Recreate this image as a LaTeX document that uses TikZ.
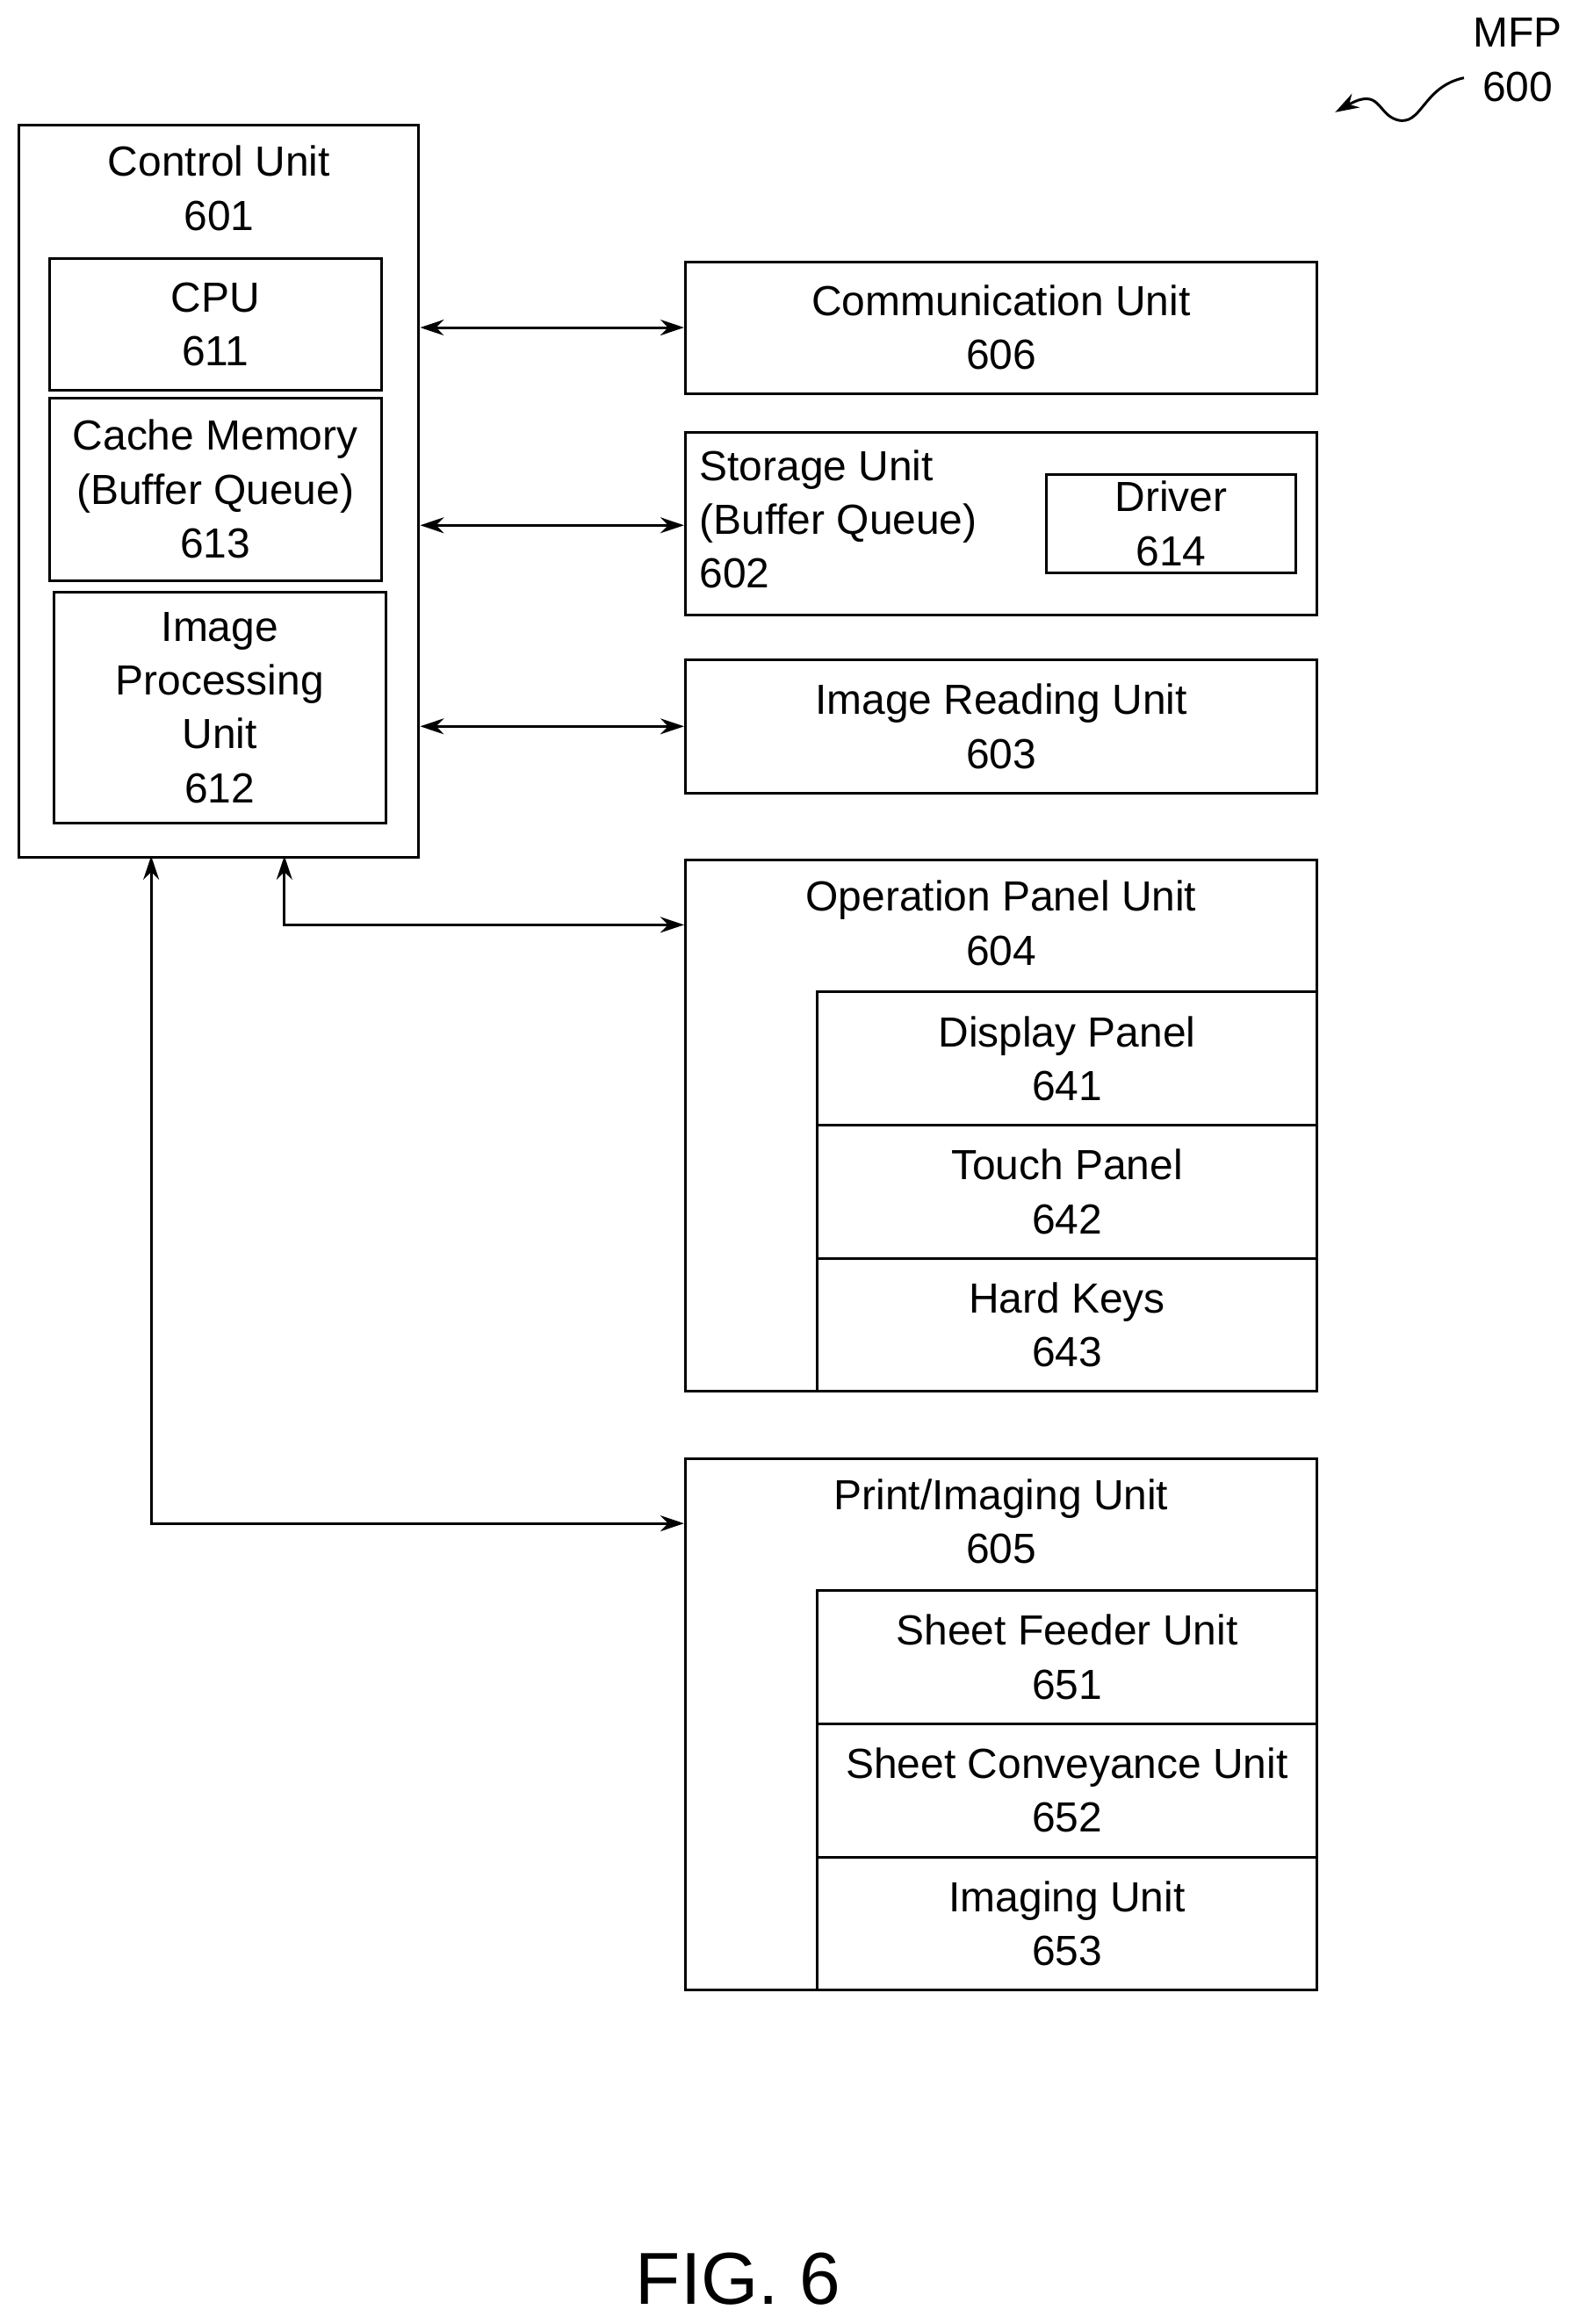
\documentclass[tikz,border=0pt]{standalone}
\usepackage{fontspec}
\setmainfont{Liberation Sans}
\usetikzlibrary{positioning,arrows.meta}

\begin{document}
\begin{tikzpicture}[x=0.02cm,y=-0.02cm,>={Stealth[length=9pt,width=6pt]},
    font=\fontsize{16}{20.5}\selectfont,
    box/.style={rectangle,draw,line width=1pt,anchor=north west,inner sep=0pt},
    title/.style={anchor=north,align=center,inner sep=8pt},
    sub/.style={box,align=center,minimum width=4.44cm} ]
  \useasboundingbox (0,0) rectangle (1050,1553);
% Control unit
  \node [box,minimum width=5.34cm,minimum height=9.78cm] (cu) at (12,83) {};
  \node [title] (cut) at (cu.north) {Control Unit\\601};
  \node [sub,minimum height=1.76cm] (cpu) at (32,172) {CPU\\611};
  \node [sub,minimum height=2.44cm] (cache) at (32,265) {Cache Memory\\(Buffer Queue)\\613};
  \node [sub,minimum height=3.08cm] (ipu) at (35,395) {Image\\Processing\\Unit\\612};
% Right hand units
  \node [box,align=center,minimum width=8.44cm,minimum height=1.76cm] (comm) at (457,174) {Communication Unit\\606};
  \node [box,minimum width=8.44cm,minimum height=2.44cm] (stor) at (457,288) {};
  \node [anchor=west,align=left,inner sep=0pt] (stort) at (467,347) {Storage Unit\\(Buffer Queue)\\602};
  \node [box,align=center,minimum width=3.34cm,minimum height=1.32cm] (drv) at (698,316) {Driver\\614};
  \node [box,align=center,minimum width=8.44cm,minimum height=1.78cm] (iru) at (457,440) {Image Reading Unit\\603};
% Operation panel
  \node [box,minimum width=8.44cm,minimum height=7.10cm] (op) at (457,574) {};
  \node [title] (opt) at (op.north) {Operation Panel Unit\\604};
  \node [box,align=center,minimum width=6.68cm,minimum height=1.78cm] (disp) at (545,662) {Display Panel\\641};
  \node [box,align=center,minimum width=6.68cm,minimum height=1.78cm] (touch) at (545,751) {Touch Panel\\642};
  \node [box,align=center,minimum width=6.68cm,minimum height=1.78cm] (keys) at (545,840) {Hard Keys\\643};
% Print unit
  \node [box,minimum width=8.44cm,minimum height=7.10cm] (pr) at (457,974) {};
  \node [title] (prt) at (pr.north) {Print/Imaging Unit\\605};
  \node [box,align=center,minimum width=6.68cm,minimum height=1.78cm] (feed) at (545,1062) {Sheet Feeder Unit\\651};
  \node [box,align=center,minimum width=6.68cm,minimum height=1.78cm] (conv) at (545,1151) {Sheet Conveyance Unit\\652};
  \node [box,align=center,minimum width=6.68cm,minimum height=1.78cm] (img) at (545,1240) {Imaging Unit\\653};
% Connectors
  \coordinate (cuA) at (190,572);
  \coordinate (cuB) at (101,572);
  \coordinate (opA) at (457,618);
  \coordinate (prA) at (457,1018);
  \coordinate (stA) at (457,351);
  \draw [<->,line width=1pt] (cu.east |- comm.west) -- (comm.west);
  \draw [<->,line width=1pt] (cu.east |- stA) -- (stA);
  \draw [<->,line width=1pt] (cu.east |- iru.west) -- (iru.west);
  \draw [<->,line width=1pt] (cuA) |- (opA);
  \draw [<->,line width=1pt] (cuB) |- (prA);
% Label
  \node [align=center,inner sep=0pt] (mfp) at (1014,40) {MFP\\600};
  \coordinate (mfpA) at (978,52);
  \coordinate (mfpB) at (892,75);
  \draw [->,line width=1pt] (mfpA) .. controls (950,58) and (950,85) .. (933,80)
        .. controls (920,76) and (922,58) .. (mfpB);
  \node [anchor=base] (fig) at (493,1540) {\fontsize{28}{34}\selectfont FIG. 6};
\end{tikzpicture}
\end{document}
